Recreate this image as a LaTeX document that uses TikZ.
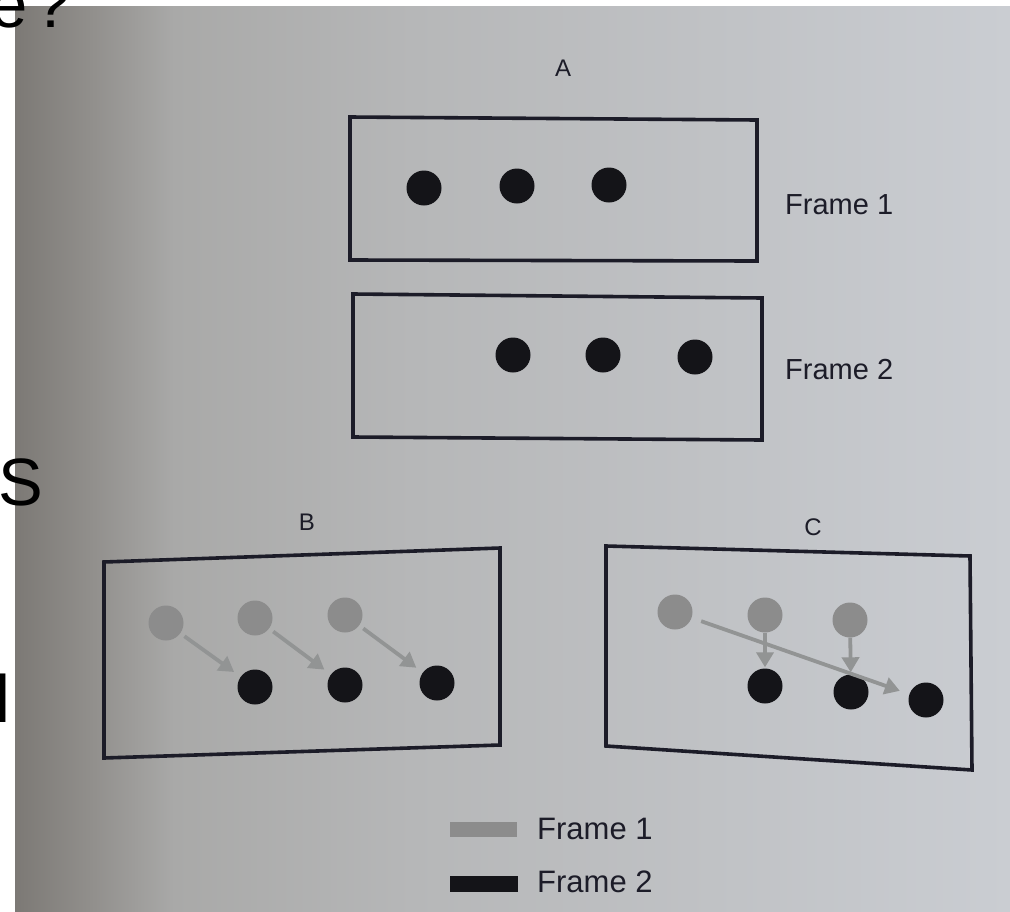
\documentclass[tikz,border=0pt]{standalone}
\usepackage{fontspec}
\setmainfont{Liberation Sans}
\usetikzlibrary{arrows.meta}
\definecolor{boxline}{HTML}{1C1C28}
\definecolor{dotdark}{HTML}{141418}
\definecolor{dotlight}{HTML}{8C8C8C}
\definecolor{arrowgray}{HTML}{929494}
\definecolor{bgA}{HTML}{7C7975}
\definecolor{bgB}{HTML}{92908D}
\definecolor{bgC}{HTML}{A9A9A8}
\definecolor{bgD}{HTML}{B6B7B8}
\definecolor{bgE}{HTML}{CACDD2}
\pgfdeclarehorizontalshading{paper}{100bp}{color(0bp)=(bgA); color(25bp)=(bgA); color(29bp)=(bgB); color(33bp)=(bgC); color(45bp)=(bgD); color(75bp)=(bgE); color(100bp)=(bgE)}
\tikzset{
  framebox/.style={draw=boxline, line width=3.6pt, line join=miter},
  darkdot/.style={circle, fill=dotdark, minimum size=35pt, inner sep=0pt},
  lightdot/.style={circle, fill=dotlight, minimum size=35pt, inner sep=0pt},
  motion/.style={draw=arrowgray, line width=3.8pt, -{Triangle[width=17pt,length=15pt]}},
  lbl/.style={font=\fontsize{29}{34}\selectfont, text=boxline, inner sep=0pt, anchor=west},
  title/.style={font=\fontsize{24}{28}\selectfont, text=boxline, inner sep=0pt},
  big/.style={font=\fontsize{67}{80}\selectfont, text=black, inner sep=0pt, anchor=base west},
}
\begin{document}
\begin{tikzpicture}[x=1pt,y=-1pt]
\useasboundingbox (0,0) rectangle (1010,911);
\clip (0,0) rectangle (1010,911);
\fill[white] (0,0) rectangle (1010,911);
\shade[shading=paper] (15,6) rectangle (1010,911);

% fragments of larger text at the left edge
\node[big] (frag1) at (-10,27) {e\kern6pt?};
\node[big] (frag2) at (-2,505) {S};
\node[big] (frag3) at (-5,722) {l};

% A
\node[title] (tA) at (563,68) {A};
\draw[framebox] (350,117) -- (757,120) -- (757,261) -- (350,260) -- cycle;
\node[darkdot] (a11) at (424,188) {};
\node[darkdot] (a12) at (517,186) {};
\node[darkdot] (a13) at (609,185) {};
\node[lbl] (f1) at (785,205) {Frame 1};

\draw[framebox] (353,294) -- (762,298) -- (762,440) -- (353,437) -- cycle;
\node[darkdot] (a21) at (513,355) {};
\node[darkdot] (a22) at (603,355) {};
\node[darkdot] (a23) at (695,357) {};
\node[lbl] (f2) at (785,370) {Frame 2};

% B
\node[title] (tB) at (307,522) {B};
\draw[framebox] (104,562) -- (500,548) -- (500,745) -- (104,758) -- cycle;
\node[lightdot] (b1) at (166,623) {};
\node[lightdot] (b2) at (255,618) {};
\node[lightdot] (b3) at (345,615) {};
\node[darkdot] (bd1) at (255,687) {};
\node[darkdot] (bd2) at (345,685) {};
\node[darkdot] (bd3) at (437,683) {};
\draw[motion, shorten <=5pt, shorten >=8pt] (b1) -- (bd1);
\draw[motion, shorten <=5pt, shorten >=8pt] (b2) -- (bd2);
\draw[motion, shorten <=5pt, shorten >=8pt] (b3) -- (bd3);

% C
\node[title] (tC) at (813,527) {C};
\draw[framebox] (606,546) -- (970,556) -- (972,770) -- (606,746) -- cycle;
\node[lightdot] (c1) at (675,612) {};
\node[lightdot] (c2) at (765,615) {};
\node[lightdot] (c3) at (850,620) {};
\node[darkdot] (cd1) at (765,686) {};
\node[darkdot] (cd2) at (851,692) {};
\node[darkdot] (cd3) at (926,700) {};
\draw[motion, shorten <=10pt, shorten >=10pt] (c1) -- (cd3);
\draw[motion, shorten <=0pt, shorten >=1pt] (c2) -- (cd1);
\draw[motion, shorten <=0pt, shorten >=2pt] (c3) -- (cd2);

% legend
\node[lbl, font=\fontsize{31}{36}\selectfont] (l1) at (537,829) {Frame 1};
\node[lbl, font=\fontsize{31}{36}\selectfont] (l2) at (537,882) {Frame 2};
\fill[dotlight] (450,822) rectangle (517,837);
\fill[dotdark] (450,876) rectangle (518,892);
\end{tikzpicture}
\end{document}
